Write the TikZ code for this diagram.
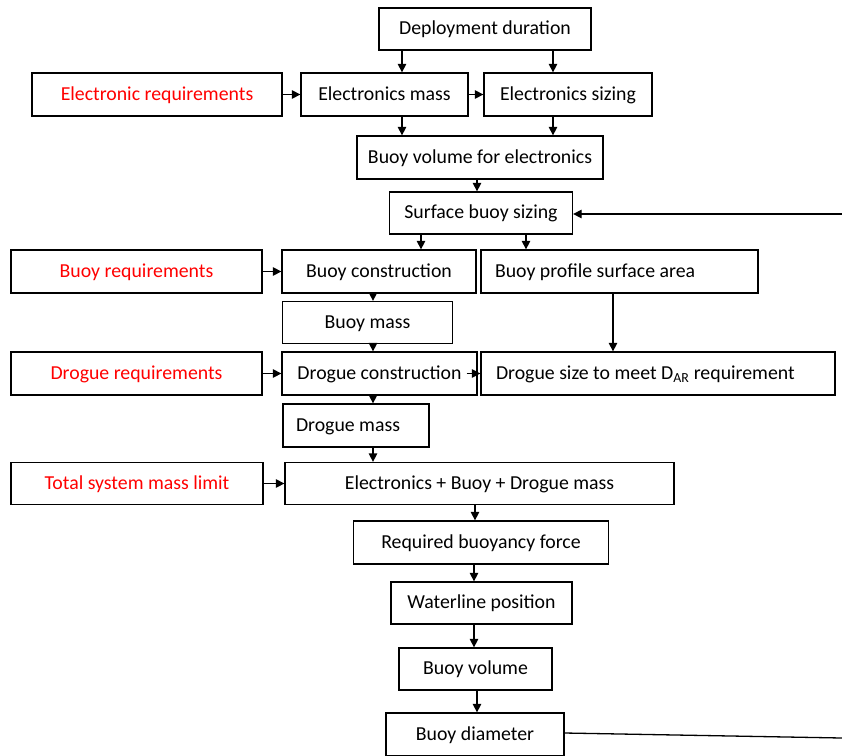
\documentclass[tikz,border=0pt]{standalone}
\usepackage{fontspec}
\setmainfont{Carlito}
\usetikzlibrary{arrows.meta}
\definecolor{reqred}{RGB}{255,0,0}
\begin{document}
\begin{tikzpicture}[x=1pt,y=-1pt,
  stepbox/.style={draw, line width=1.3pt, inner ysep=0pt, inner xsep=0pt,
    minimum height=43pt, text height=15pt, text depth=4pt,
    font=\fontsize{19.8}{23}\selectfont, align=center},
  reqbox/.style={stepbox, text=reqred},
  leftbox/.style={stepbox, align=flush left},
  flow/.style={line width=1.3pt, -{Triangle[length=8.5pt,width=8.5pt]}},
  plain/.style={line width=1.3pt}
]
\useasboundingbox (0,0) rectangle (842,755);

% electronics branch
\node[stepbox, minimum width=212pt, minimum height=42pt] (dd) at (485,29) {Deployment duration};
\node[reqbox, minimum width=250pt] (er) at (157,94.5) {Electronic requirements};
\node[stepbox, minimum width=167pt] (em) at (384.5,94.5) {Electronics mass};
\node[stepbox, minimum width=168pt] (es) at (568,94.5) {Electronics sizing};
\node[stepbox, minimum width=246pt] (bve) at (480,157.5) {Buoy volume for electronics};
\node[stepbox, minimum width=183pt, minimum height=42pt] (sbs) at (481,213) {Surface buoy sizing};

% buoy and drogue branch
\node[reqbox, minimum width=251pt] (br) at (136.5,271.5) {Buoy requirements};
\node[stepbox, minimum width=194pt] (bc) at (379,271.5) {Buoy construction};
\node[leftbox, inner xsep=14pt, text width=249pt] (bpa) at (619.5,271.5) {Buoy profile surface area};
\node[stepbox, minimum width=170pt, minimum height=42pt] (bm) at (367.5,322.5) {Buoy mass};
\node[reqbox, minimum width=251pt] (dr) at (136.5,373.5) {Drogue requirements};
\node[stepbox, minimum width=195pt] (dc) at (379.5,373.5) {Drogue construction};
\node[leftbox, inner xsep=15pt, text width=324pt] (ds) at (658,373.5) {Drogue size to meet D\textsubscript{AR} requirement};
\node[leftbox, inner xsep=13pt, text width=120pt] (dm) at (356,425.5) {Drogue mass};

% totals and buoyancy chain
\node[reqbox, minimum width=252pt, minimum height=42pt] (tm) at (137,483.5) {Total system mass limit};
\node[stepbox, minimum width=389pt, minimum height=42pt] (ebd) at (479.5,483.5) {Electronics + Buoy + Drogue mass};
\node[stepbox, minimum width=255pt] (rbf) at (481,542.5) {Required buoyancy force};
\node[stepbox, minimum width=181pt, minimum height=42pt] (wp) at (481.5,603) {Waterline position};
\node[stepbox, minimum width=153pt, minimum height=42pt] (bv) at (475.5,669) {Buoy volume};
\node[stepbox, minimum width=178pt] (bd) at (475,734.5) {Buoy diameter};

% free ends of the feedback loop
\coordinate (loopin) at (842,214);
\coordinate (loopout) at (842,738);

% connectors
\draw[flow] (402,0 |- dd.south) -- (402,0 |- em.north);
\draw[flow] (553,0 |- dd.south) -- (553,0 |- es.north);
\draw[flow] (er.east) -- (em.west);
\draw[flow] (em.east) -- (es.west);
\draw[flow] (402,0 |- em.south) -- (402,0 |- bve.north);
\draw[flow] (553,0 |- es.south) -- (553,0 |- bve.north);
\draw[flow] (477,0 |- bve.south) -- (477,0 |- sbs.north);
\draw[flow] (loopin) -- (loopin -| sbs.east);
\draw[flow] (421,0 |- sbs.south) -- (421,0 |- bc.north);
\draw[flow] (526,0 |- sbs.south) -- (526,0 |- bpa.north);
\draw[flow] (br.east) -- (bc.west);
\draw[flow] (373,0 |- bc.south) -- (373,0 |- bm.north);
\draw[flow] (613,0 |- bpa.south) -- (613,0 |- ds.north);
\draw[flow] (373,0 |- bm.south) -- (373,0 |- dc.north);
\draw[flow] (dr.east) -- (dc.west);
\draw[flow] ([xshift=-11pt]dc.east) -- (ds.west);
\draw[flow] (373,0 |- dc.south) -- (373,0 |- dm.north);
\draw[flow] (373,0 |- dm.south) -- (373,0 |- ebd.north);
\draw[flow] (tm.east) -- (ebd.west);
\draw[flow] (475,0 |- ebd.south) -- (475,0 |- rbf.north);
\draw[flow] (474,0 |- rbf.south) -- (474,0 |- wp.north);
\draw[flow] (474,0 |- wp.south) -- (474,0 |- bv.north);
\draw[flow] (477,0 |- bv.south) -- (477,0 |- bd.north);
\draw[plain] ([yshift=1.5pt]bd.east) -- (loopout);
\end{tikzpicture}
\end{document}
